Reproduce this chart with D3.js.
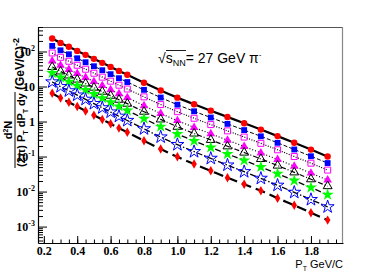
<!DOCTYPE html>
<html lang="en">
<head>
<meta charset="UTF-8">
<title>pT spectra, 27 GeV pi-</title>
<script src="https://d3js.org/d3.v7.min.js"></script>
<style>
  body { margin: 0; background: #fff; }
  svg { display: block; }
  .tlab { font-family: "Liberation Serif", "Times New Roman", serif; font-weight: bold; font-size: 12px; }
  .sans { font-family: "Liberation Sans", Arial, sans-serif; }
</style>
</head>
<body>
<svg id="chart"></svg>
<script>
// pT bins (GeV/c)
const pT = [0.25, 0.30, 0.35, 0.40, 0.45, 0.50, 0.55, 0.60, 0.65, 0.70,
            0.80, 0.90, 1.00, 1.10, 1.20, 1.30, 1.40, 1.50, 1.60, 1.70, 1.80, 1.90];

// spectra, one array per centrality class (top to bottom)
const redCircles   = [235, 176, 136, 104, 80, 61.5, 47.3, 36.3, 27.9, 21.6, 12.8, 7.71, 4.81, 3.10, 2.04, 1.35, 0.893, 0.589, 0.383, 0.247, 0.158, 0.100];
const blueSquares  = [144, 108, 83.2, 64.0, 49.3, 37.9, 29.2, 22.5, 17.3, 13.4, 8.02, 4.84, 3.03, 1.96, 1.30, 0.857, 0.570, 0.378, 0.247, 0.159, 0.102, 0.0652];
const magentaOpenSquares = [90.6, 68.1, 52.5, 40.4, 31.1, 23.9, 18.5, 14.2, 10.9, 8.47, 5.06, 3.05, 1.91, 1.24, 0.818, 0.541, 0.360, 0.238, 0.156, 0.100, 0.0646, 0.0411];
const magentaTriangles = [53.6, 40.1, 30.7, 23.5, 18.0, 13.8, 10.6, 8.13, 6.24, 4.81, 2.84, 1.70, 1.06, 0.679, 0.446, 0.293, 0.194, 0.127, 0.0826, 0.0530, 0.0337, 0.0213];
const blackOpenTriangles = [36.1, 27.0, 20.7, 15.8, 12.2, 9.31, 7.13, 5.47, 4.20, 3.24, 1.91, 1.15, 0.711, 0.455, 0.299, 0.196, 0.130, 0.0853, 0.0553, 0.0354, 0.0225, 0.0143];
const greenStars   = [24.3, 18.1, 13.8, 10.5, 8.0, 6.10, 4.65, 3.54, 2.70, 2.07, 1.21, 0.716, 0.441, 0.280, 0.182, 0.118, 0.0776, 0.0505, 0.0324, 0.0206, 0.0130, 0.00815];
const blueOpenStars = [13.5, 9.91, 7.50, 5.68, 4.30, 3.25, 2.46, 1.86, 1.41, 1.07, 0.619, 0.361, 0.219, 0.138, 0.0886, 0.0570, 0.0369, 0.0238, 0.0151, 0.00948, 0.00590, 0.00366];
const redDiamonds  = [6.39, 4.69, 3.54, 2.67, 2.01, 1.51, 1.14, 0.859, 0.648, 0.491, 0.281, 0.163, 0.0980, 0.0611, 0.0390, 0.0249, 0.0161, 0.0105, 0.00648, 0.00404, 0.00249, 0.00153];

// axis ticks
const xTicks = [0.2, 0.4, 0.6, 0.8, 1.0, 1.2, 1.4, 1.6, 1.8];
const yTicks = [1e-3, 1e-2, 1e-1, 1, 10, 100];
const yTickBase = ["10", "10", "10", "1", "10", "10"];
const yTickExp  = ["-3", "-2", "-1", "", "", "2"];

const width = 382, height = 273;
const frame = { left: 38, right: 343, top: 27, bottom: 243 };

const svg = d3.select('#chart')
    .attr('width', width)
    .attr('height', height);

const x = d3.scaleLinear().domain([0.165, 1.992]).range([frame.left, frame.right]);
const y = d3.scaleLog().domain([3.4e-4, 500]).range([frame.bottom, frame.top]);

// styles for each series
const series = [
    { values: redCircles,         sym: d3.symbolCircle,   size: 32, fill: '#ff0000', stroke: 'none',    dash: null,        lw: 2.2 },
    { values: blueSquares,        sym: d3.symbolSquare,   size: 34, fill: '#0000ff', stroke: 'none',    dash: '4,2',       lw: 1 },
    { values: magentaOpenSquares, sym: d3.symbolSquare,   size: 36, fill: 'none',    stroke: '#ff00ff', dash: '1,1.5',     lw: 1.2 },
    { values: magentaTriangles,   sym: d3.symbolTriangle, size: 32, fill: '#ff00ff', stroke: 'none',    dash: '1,2',       lw: 1.2 },
    { values: blackOpenTriangles, sym: d3.symbolTriangle, size: 34, fill: 'none',    stroke: '#000',    dash: '5,2,1,2',   lw: 1.2 },
    { values: greenStars,         sym: d3.symbolStar,     size: 46, fill: '#00ff00', stroke: 'none',    dash: '6,3',       lw: 1.3 },
    { values: blueOpenStars,      sym: d3.symbolStar,     size: 52, fill: 'none',    stroke: '#0000ff', dash: '6,2,1.5,2', lw: 1.3 },
    { values: redDiamonds,        sym: d3.symbolDiamond,  size: 26, fill: '#ff0000', stroke: 'none',    dash: '10,5',      lw: 2.2 }
];

// fit curves
const line = d3.line()
    .x(d => x(d[0]))
    .y(d => y(d[1]))
    .curve(d3.curveMonotoneX);

svg.append('g').selectAll('path')
    .data(series)
    .enter().append('path')
    .attr('d', s => line(pT.map((p, i) => [p, s.values[i]])))
    .attr('fill', 'none')
    .attr('stroke', '#000')
    .attr('stroke-width', s => s.lw)
    .attr('stroke-dasharray', s => s.dash);

// markers
series.forEach(s => {
    svg.append('g').selectAll('path')
        .data(pT.map((p, i) => [p, s.values[i]]))
        .enter().append('path')
        .attr('transform', d => `translate(${x(d[0])},${y(d[1])})`)
        .attr('d', d3.symbol().type(s.sym).size(s.size))
        .attr('fill', s.fill)
        .attr('stroke', s.stroke)
        .attr('stroke-width', 1);
});

// frame top / right
svg.append('line')
    .attr('x1', frame.left).attr('x2', frame.right)
    .attr('y1', frame.top + 0.5).attr('y2', frame.top + 0.5)
    .attr('stroke', '#555').attr('stroke-width', 1.2);
svg.append('line')
    .attr('x1', frame.right - 0.5).attr('x2', frame.right - 0.5)
    .attr('y1', frame.top).attr('y2', frame.bottom)
    .attr('stroke', '#888').attr('stroke-width', 1.2);

// x axis
const xMinor = d3.range(0.2, 1.96, 0.05);
svg.append('g')
    .attr('transform', `translate(0,${frame.bottom})`)
    .call(d3.axisBottom(x).tickValues(xMinor).tickSizeInner(-3.5).tickSizeOuter(0).tickFormat(''))
    .call(g => g.select('.domain').remove());

const xAxis = svg.append('g')
    .attr('transform', `translate(0,${frame.bottom})`)
    .call(d3.axisBottom(x).tickValues(xTicks).tickSizeInner(-7).tickSizeOuter(0)
        .tickPadding(3).tickFormat(d3.format('.1f')));
xAxis.selectAll('text').attr('class', 'tlab').attr('fill', '#000');
xAxis.select('.domain').attr('stroke-width', 1.2);

// y axis, log minor ticks
const yMinor = [];
for (let e = -4; e <= 2; e++) {
    for (let m = 2; m <= 9; m++) {
        const v = m * Math.pow(10, e);
        if (v >= 3.4e-4 && v <= 500) yMinor.push(v);
    }
}
svg.append('g')
    .attr('transform', `translate(${frame.left},0)`)
    .call(d3.axisLeft(y).tickValues(yMinor).tickSizeInner(-5).tickSizeOuter(0).tickFormat(''))
    .call(g => g.select('.domain').remove());

const yAxis = svg.append('g')
    .attr('transform', `translate(${frame.left},0)`)
    .call(d3.axisLeft(y).tickValues(yTicks).tickSizeInner(-9).tickSizeOuter(0).tickPadding(3).tickFormat(''));
yAxis.select('.domain').attr('stroke-width', 1.2);
yAxis.selectAll('.tick text').each(function(d, i) {
    const t = d3.select(this).attr('class', 'tlab').attr('fill', '#000');
    t.append('tspan').text(yTickBase[i]);
    if (yTickExp[i]) {
        t.append('tspan').attr('dy', '-5').style('font-size', '8px').text(yTickExp[i]);
    }
});

// x title
const xt = svg.append('text')
    .attr('class', 'sans')
    .attr('x', frame.right)
    .attr('y', 268)
    .attr('text-anchor', 'end')
    .style('font-size', '11px');
xt.append('tspan').text('P');
xt.append('tspan').attr('dy', 3).style('font-size', '7px').text('T');
xt.append('tspan').attr('dy', -3).text(' GeV/C');

// y title (rotated fraction)
const yt = svg.append('g')
    .attr('class', 'sans')
    .attr('transform', 'translate(15,130) rotate(-90)')
    .style('font-weight', 'bold');

const num = yt.append('text').attr('x', 0).attr('y', -3).attr('text-anchor', 'middle').style('font-size', '11px');
num.append('tspan').text('d');
num.append('tspan').attr('dy', -4).style('font-size', '7px').text('2');
num.append('tspan').attr('dy', 4).text('N');

yt.append('line')
    .attr('x1', -38).attr('x2', 38)
    .attr('y1', 0).attr('y2', 0)
    .attr('stroke', '#000').attr('stroke-width', 1);

const den = yt.append('text').attr('x', 0).attr('y', 10).attr('text-anchor', 'middle').style('font-size', '11px');
den.append('tspan').text('(2π) P');
den.append('tspan').attr('dy', 2.5).style('font-size', '7px').text('T');
den.append('tspan').attr('dy', -2.5).text(' dP');
den.append('tspan').attr('dy', 2.5).style('font-size', '7px').text('T');
den.append('tspan').attr('dy', -2.5).text(' dy');

const unit = yt.append('text').attr('x', 40).attr('y', 9).style('font-size', '12px');
unit.append('tspan').text('(GeV/C)');
unit.append('tspan').attr('dy', -5).style('font-size', '9px').text('-2');

// energy label
const lab = svg.append('text')
    .attr('class', 'sans')
    .attr('x', 158)
    .attr('y', 63)
    .style('font-size', '14px');
lab.append('tspan').text('√');
lab.append('tspan').text('s');
lab.append('tspan').attr('dy', 3).style('font-size', '9px').text('NN');
lab.append('tspan').attr('dy', -3).text('= 27 GeV  π');
lab.append('tspan').attr('dy', -6).style('font-size', '8px').text('-');

// overline for the square root
svg.append('line')
    .attr('x1', 166).attr('x2', 186)
    .attr('y1', 50.5).attr('y2', 50.5)
    .attr('stroke', '#000').attr('stroke-width', 0.9);
</script>
</body>
</html>
